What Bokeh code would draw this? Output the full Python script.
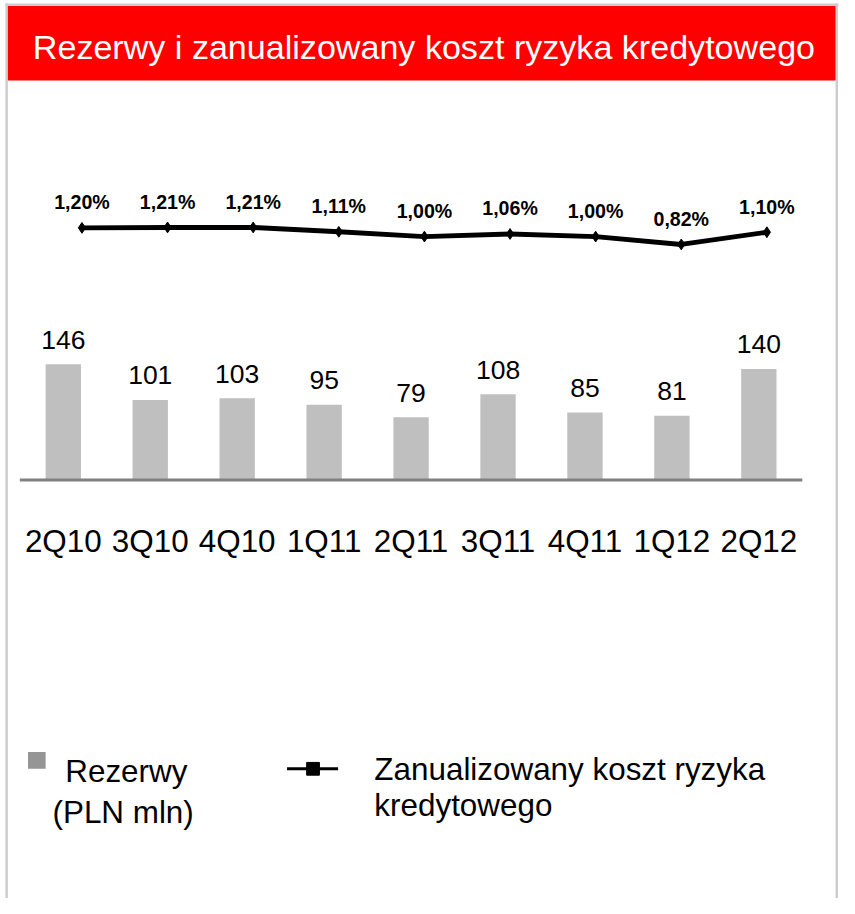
from bokeh.plotting import figure
from bokeh.models import Range1d, Label, BoxAnnotation, ColumnDataSource
from bokeh.core.properties import value
from bokeh.embed import file_html
from bokeh.resources import INLINE

# ---- data ----
categories = ["2Q10", "3Q10", "4Q10", "1Q11", "2Q11", "3Q11", "4Q11", "1Q12", "2Q12"]
rezerwy = [146, 101, 103, 95, 79, 108, 85, 81, 140]
koszt = [1.20, 1.21, 1.21, 1.11, 1.00, 1.06, 1.00, 0.82, 1.10]
koszt_labels = ["1,20%", "1,21%", "1,21%", "1,11%", "1,00%", "1,06%", "1,00%", "0,82%", "1,10%"]
title_text = "Rezerwy i zanualizowany koszt ryzyka kredytowego"
legend_bar_text = ["Rezerwy", "(PLN mln)"]
legend_line_text = ["Zanualizowany koszt ryzyka", "kredytowego"]

FONT = "Liberation Sans"
W, H = 839, 898
# layout space = reference picture pixels (855 x 914), scaled into the figure
RW, RH = 855, 914
S = W / RW


def px(v):
    return f"{v * S:.1f}px"


p = figure(width=W, height=H, output_backend="svg", toolbar_location=None,
           x_range=Range1d(0, RW), y_range=Range1d(RH, 0),
           x_axis_location=None, y_axis_location=None, min_border=0,
           background_fill_color="white", border_fill_color="white")
p.grid.visible = False
p.outline_line_color = None

# scales for bars (category index -> px, value -> px)
bar_x0, bar_step = 64.0, 88.6
bar_base, bar_scale = 488.0, 0.807
p.extra_x_ranges["bx"] = Range1d((0 - bar_x0) / bar_step, (RW - bar_x0) / bar_step)
p.extra_y_ranges["by"] = Range1d((bar_base - RH) / bar_scale, (bar_base - 0) / bar_scale)

# scales for line
ln_x0, ln_step = 83.0, 87.25
ln_zero, ln_scale = 284.7, 44.4
p.extra_x_ranges["lx"] = Range1d((0 - ln_x0) / ln_step, (RW - ln_x0) / ln_step)
p.extra_y_ranges["ly"] = Range1d((ln_zero - RH) / ln_scale, (ln_zero - 0) / ln_scale)

idx = list(range(len(categories)))
src = ColumnDataSource(dict(i=idx, cat=categories, rez=rezerwy, rez_lbl=[str(v) for v in rezerwy],
                            k=koszt, k_lbl=koszt_labels, zero=[0] * len(idx)))

GREY = "#CCCCCC"
# frame borders (grey)
p.add_layout(BoxAnnotation(left=5, right=854, top=3, bottom=5.5, fill_color=GREY,
                           fill_alpha=1, line_alpha=0))
p.add_layout(BoxAnnotation(left=5, right=7.5, top=3, bottom=RH, fill_color=GREY,
                           fill_alpha=1, line_alpha=0))
p.add_layout(BoxAnnotation(left=851, right=853.5, top=3, bottom=RH, fill_color=GREY,
                           fill_alpha=1, line_alpha=0))

# title banner
p.add_layout(BoxAnnotation(left=7.5, right=851, top=5.5, bottom=81.5, fill_color="#FF0000",
                           fill_alpha=1, line_alpha=0))
p.add_layout(Label(x=431.5, y=47, text=title_text, text_align="center", text_baseline="alphabetic",
                   text_font=FONT, text_font_size=px(34.7), text_color="white"))

# bars
p.vbar(x="i", top="rez", bottom=0, width=36 / bar_step, source=src, x_range_name="bx",
       y_range_name="by", fill_color="#BFBFBF", line_color=None)
p.text(x="i", y="rez", text="rez_lbl", source=src, x_range_name="bx", y_range_name="by",
       y_offset=-25 * S, text_align="center", text_baseline="alphabetic",
       text_font=value(FONT), text_font_size=px(27), text_color="black")
# category axis line
p.line(x=[-0.5, len(idx) - 0.5], y=[0, 0], x_range_name="bx", y_range_name="by",
       line_color="#808080", line_width=3 * S)
p.text(x="i", y="zero", text="cat", source=src, x_range_name="bx", y_range_name="by",
       y_offset=63 * S, text_align="center", text_baseline="alphabetic",
       text_font=value(FONT), text_font_size=px(32), text_color="black")

# line
p.line(x="i", y="k", source=src, x_range_name="lx", y_range_name="ly",
       line_color="black", line_width=5 * S, line_join="round")
p.scatter(x="i", y="k", source=src, x_range_name="lx", y_range_name="ly",
          marker="diamond", size=11 * S, fill_color="black", line_color="black")
p.text(x="i", y="k", text="k_lbl", source=src, x_range_name="lx", y_range_name="ly",
       y_offset=-26 * S, text_align="center", text_baseline="alphabetic",
       text_font=value(FONT), text_font_size=px(20), text_font_style="bold", text_color="black")

# legend (drawn manually)
p.add_layout(BoxAnnotation(left=28, right=46, top=765, bottom=782, fill_color="#959595",
                           fill_alpha=1, line_alpha=0))
p.add_layout(Label(x=66, y=785, text=legend_bar_text[0], text_baseline="alphabetic",
                   text_font=FONT, text_font_size=px(32), text_color="black"))
p.add_layout(Label(x=53, y=826, text=legend_bar_text[1], text_baseline="alphabetic",
                   text_font=FONT, text_font_size=px(32), text_color="black"))
p.line(x=[292, 344], y=[782, 782], line_color="black", line_width=3 * S)
p.scatter(x=[318.5], y=[782], marker="square", size=13 * S, fill_color="black", line_color="black")
p.add_layout(Label(x=381, y=783, text=legend_line_text[0], text_baseline="alphabetic",
                   text_font=FONT, text_font_size=px(32), text_color="black"))
p.add_layout(Label(x=381, y=819, text=legend_line_text[1], text_baseline="alphabetic",
                   text_font=FONT, text_font_size=px(32), text_color="black"))

open("out.html", "w").write(file_html(p, INLINE))
